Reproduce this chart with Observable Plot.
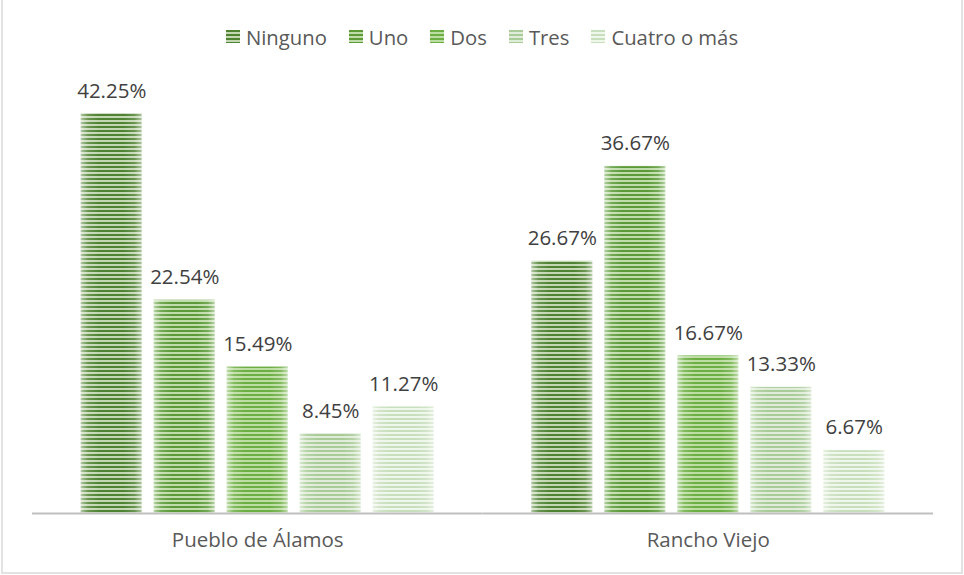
<!DOCTYPE html>
<html>
<head>
<meta charset="utf-8">
<script src="https://cdn.jsdelivr.net/npm/d3@7"></script>
<script src="https://cdn.jsdelivr.net/npm/@observablehq/plot@0.6"></script>
<style>
  html, body { margin: 0; padding: 0; background: #fff; }
  #wrap { position: relative; width: 964px; height: 575px; overflow: hidden; font-family: "Open Sans", sans-serif; }
  #frame { position: absolute; left: 1px; top: -2px; width: 958px; height: 572px; border: 2px solid #e2e2e2; pointer-events: none; }
  #legend { height: 60px; display: flex; justify-content: center; align-items: center; padding-top: 13px; box-sizing: border-box; font-size: 20.3px; color: #595959; padding-left: 0px; }
  .item { display: flex; align-items: center; margin: 0 11px; }
  .sw { width: 14px; height: 13px; margin-right: 6px; }
  svg { display: block; }
</style>
</head>
<body>
<div id="wrap">
  <div id="legend"></div>
  <div id="chart"></div>
  <div id="frame"></div>
</div>
<script>
const grupos = ["Pueblo de Álamos", "Rancho Viejo"];
const series = ["Ninguno", "Uno", "Dos", "Tres", "Cuatro o más"];
const valoresPueblo = [42.25, 22.54, 15.49, 8.45, 11.27];
const valoresRancho = [26.67, 36.67, 16.67, 13.33, 6.67];

const oscuros = ["#4f8232", "#5b9a37", "#6cae42", "#a8cb98", "#c8dfbd"];
const claros  = ["#c3d7b3", "#c0dcab", "#bcdda3", "#dfecd7", "#eff6ea"];

const data = [];
series.forEach((s, i) => data.push({grupo: grupos[0], serie: s, valor: valoresPueblo[i]}));
series.forEach((s, i) => data.push({grupo: grupos[1], serie: s, valor: valoresRancho[i]}));

const urls = series.map((s, i) => `url(#pat${i})`);

// legend
const legend = d3.select("#legend");
series.forEach((s, i) => {
  const it = legend.append("div").attr("class", "item");
  it.append("div").attr("class", "sw")
    .style("background", `repeating-linear-gradient(to bottom, ${oscuros[i]} 0px, ${oscuros[i]} 2px, ${claros[i]} 2px, ${claros[i]} 4px)`);
  it.append("span").text(s);
});

const chart = Plot.plot({
  width: 964,
  height: 515,
  marginLeft: 32,
  marginRight: 31,
  marginTop: 27,
  marginBottom: 62,
  style: {fontFamily: "Open Sans, sans-serif", fontSize: "20.5px", color: "#595959", background: "transparent"},
  fx: {domain: grupos, padding: 0, round: false, label: null, axis: "bottom", tickSize: 0, tickPadding: 19},
  x: {domain: series, paddingInner: 0.164, paddingOuter: 0.668, round: false, axis: null},
  y: {domain: [0, 45], axis: null},
  color: {type: "ordinal", domain: series, range: urls},
  marks: [
    Plot.barY(data, {fx: "grupo", x: "serie", y: "valor", fill: "serie"}),
    Plot.barY(data, {fx: "grupo", x: "serie", y: "valor", fill: "url(#shine)", stroke: "#ffffff", strokeOpacity: 0.35, strokeWidth: 1}),
    Plot.ruleY([0], {stroke: "#bfbfbf", strokeWidth: 2}),
    Plot.text(data, {fx: "grupo", x: "serie", y: "valor", text: d => d.valor.toFixed(2) + "%", lineAnchor: "bottom", dy: -16, fontSize: 20.5, fill: "#404040"})
  ]
});

const svg = d3.select(chart);
const defs = svg.insert("defs", ":first-child");
series.forEach((s, i) => {
  const p = defs.append("pattern").attr("id", `pat${i}`).attr("patternUnits", "userSpaceOnUse")
    .attr("width", 4).attr("height", 4);
  p.append("rect").attr("width", 4).attr("height", 4).attr("fill", claros[i]);
  p.append("rect").attr("y", 2).attr("width", 4).attr("height", 2).attr("fill", oscuros[i]);
});
const g = defs.append("linearGradient").attr("id", "shine").attr("x1", 0).attr("x2", 1).attr("y1", 0).attr("y2", 0);
[[0, 0.55], [0.12, 0.15], [0.3, 0], [0.7, 0], [0.88, 0.15], [1, 0.55]].forEach(([o, a]) => {
  g.append("stop").attr("offset", o).attr("stop-color", "#ffffff").attr("stop-opacity", a);
});

document.getElementById("chart").appendChild(chart);
</script>
</body>
</html>
